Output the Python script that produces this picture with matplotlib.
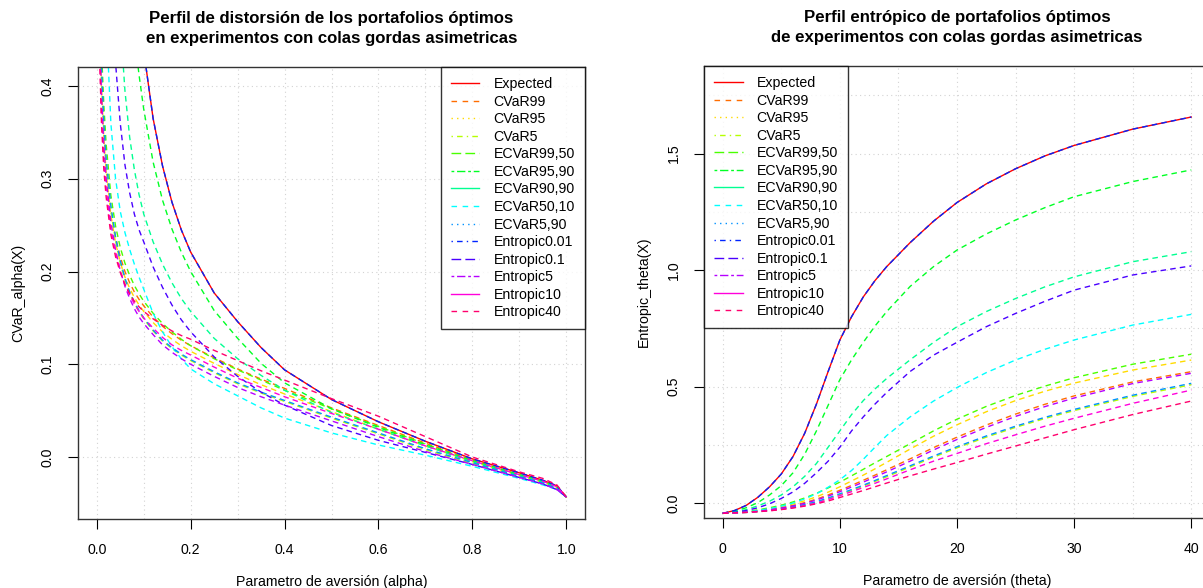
import numpy as np
import matplotlib
matplotlib.use("Agg")
import matplotlib.pyplot as plt
from matplotlib.lines import Line2D
from matplotlib.ticker import MultipleLocator

plt.rcParams['font.family'] = ['Liberation Sans', 'DejaVu Sans']

# series names and colours (R rainbow(14))
names = ["Expected", "CVaR99", "CVaR95", "CVaR5", "ECVaR99,50", "ECVaR95,90",
         "ECVaR90,90", "ECVaR50,10", "ECVaR5,90", "Entropic0.01", "Entropic0.1",
         "Entropic5", "Entropic10", "Entropic40"]
colors = ["#FF0000", "#FF6D00", "#FFDB00", "#B6FF00", "#49FF00", "#00FF24",
          "#00FF92", "#00FFFF", "#0092FF", "#0024FF", "#4900FF", "#B600FF",
          "#FF00DB", "#FF006D"]

# left panel: distortion profile vs alpha
alpha = [0.005, 0.01, 0.015, 0.02, 0.03, 0.04, 0.05, 0.06, 0.07, 0.08, 0.09, 0.10, 0.12, 0.14,
         0.16, 0.18, 0.2, 0.25, 0.3, 0.35, 0.4, 0.5, 0.6, 0.7, 0.8, 0.9, 0.95, 0.98, 1.0]
l_expected = [3.0, 2.5, 2.2, 1.9, 1.45, 1.1, 0.88, 0.73, 0.63, 0.55, 0.488, 0.438, 0.365, 0.314,
              0.275, 0.245, 0.221, 0.177, 0.146, 0.118, 0.094, 0.062, 0.038, 0.017, -0.002, -0.017, -0.025, -0.031, -0.043]
l_cvar99 = [0.5, 0.41, 0.35, 0.312, 0.266, 0.237, 0.216, 0.2, 0.188, 0.178, 0.17, 0.163, 0.151, 0.141,
            0.133, 0.126, 0.12, 0.107, 0.095, 0.084, 0.074, 0.053, 0.034, 0.015, -0.003, -0.019, -0.026, -0.032, -0.043]
l_cvar95 = [0.49, 0.40, 0.345, 0.306, 0.261, 0.231, 0.21, 0.194, 0.182, 0.172, 0.164, 0.157, 0.145, 0.135,
            0.127, 0.12, 0.114, 0.101, 0.089, 0.078, 0.068, 0.049, 0.03, 0.012, -0.005, -0.02, -0.027, -0.033, -0.043]
l_cvar5 = [0.5, 0.41, 0.355, 0.316, 0.266, 0.233, 0.209, 0.191, 0.177, 0.166, 0.157, 0.149, 0.136, 0.125,
           0.117, 0.11, 0.104, 0.091, 0.079, 0.069, 0.06, 0.042, 0.025, 0.008, -0.007, -0.021, -0.028, -0.034, -0.043]
l_ecvar99_50 = [0.55, 0.44, 0.38, 0.337, 0.282, 0.249, 0.226, 0.209, 0.196, 0.185, 0.176, 0.168, 0.155, 0.144,
                0.135, 0.127, 0.12, 0.106, 0.094, 0.083, 0.072, 0.052, 0.033, 0.014, -0.004, -0.019, -0.026, -0.032, -0.043]
l_ecvar95_90 = [2.5, 2.1, 1.8, 1.55, 1.15, 0.87, 0.70, 0.59, 0.51, 0.455, 0.412, 0.375, 0.318, 0.277,
                0.246, 0.221, 0.2, 0.158, 0.128, 0.101, 0.08, 0.052, 0.032, 0.013, -0.004, -0.019, -0.026, -0.032, -0.043]
l_ecvar90_90 = [1.8, 1.4, 1.15, 0.98, 0.74, 0.58, 0.47, 0.395, 0.345, 0.31, 0.283, 0.262, 0.232, 0.208,
                0.188, 0.171, 0.157, 0.128, 0.106, 0.088, 0.072, 0.048, 0.03, 0.012, -0.005, -0.02, -0.027, -0.033, -0.043]
l_ecvar50_10 = [1.0, 0.72, 0.57, 0.475, 0.36, 0.30, 0.265, 0.242, 0.224, 0.208, 0.194, 0.181, 0.155, 0.135,
                0.119, 0.106, 0.095, 0.079, 0.066, 0.053, 0.042, 0.026, 0.013, 0.002, -0.01, -0.023, -0.03, -0.035, -0.043]
l_ecvar5_90 = [0.52, 0.42, 0.36, 0.321, 0.271, 0.237, 0.212, 0.193, 0.178, 0.167, 0.158, 0.15, 0.137, 0.126,
               0.118, 0.111, 0.105, 0.092, 0.08, 0.07, 0.061, 0.043, 0.026, 0.009, -0.006, -0.021, -0.028, -0.034, -0.043]
l_ent001 = [3.0, 2.5, 2.2, 1.9, 1.45, 1.1, 0.88, 0.73, 0.63, 0.55, 0.488, 0.438, 0.365, 0.314,
            0.275, 0.245, 0.221, 0.177, 0.146, 0.118, 0.094, 0.062, 0.038, 0.017, -0.002, -0.017, -0.025, -0.031, -0.043]
l_ent01 = [1.4, 1.05, 0.86, 0.72, 0.54, 0.425, 0.36, 0.315, 0.285, 0.262, 0.245, 0.232, 0.205, 0.183,
           0.164, 0.148, 0.135, 0.108, 0.087, 0.07, 0.056, 0.034, 0.018, 0.005, -0.008, -0.022, -0.029, -0.035, -0.043]
l_ent5 = [0.48, 0.39, 0.335, 0.30, 0.253, 0.223, 0.201, 0.184, 0.171, 0.16, 0.151, 0.144, 0.132, 0.121,
          0.113, 0.106, 0.10, 0.087, 0.075, 0.065, 0.056, 0.039, 0.022, 0.006, -0.008, -0.022, -0.029, -0.035, -0.043]
l_ent10 = [0.46, 0.37, 0.32, 0.29, 0.246, 0.221, 0.201, 0.186, 0.175, 0.165, 0.157, 0.15, 0.139, 0.129,
           0.121, 0.115, 0.11, 0.097, 0.085, 0.075, 0.065, 0.047, 0.03, 0.012, -0.004, -0.019, -0.026, -0.032, -0.043]
l_ent40 = [0.45, 0.36, 0.31, 0.28, 0.24, 0.216, 0.199, 0.186, 0.176, 0.168, 0.162, 0.157, 0.149, 0.142,
           0.136, 0.131, 0.127, 0.115, 0.104, 0.093, 0.083, 0.063, 0.044, 0.022, 0.0, -0.016, -0.023, -0.03, -0.043]

# right panel: entropic profile vs theta
theta = [0, 1, 2, 3, 4, 5, 6, 7, 8, 9, 10, 11, 12, 13, 14, 16, 18, 20, 22.5, 25, 27.5, 30, 35, 40]
r_expected = [-0.044, -0.032, -0.01, 0.025, 0.07, 0.125, 0.2, 0.3, 0.425, 0.565, 0.70, 0.80, 0.885, 0.955,
              1.015, 1.118, 1.21, 1.29, 1.37, 1.435, 1.49, 1.535, 1.605, 1.657]
r_cvar99 = [-0.044, -0.042, -0.039, -0.034, -0.028, -0.02, -0.01, 0.002, 0.017, 0.035, 0.055, 0.076, 0.098, 0.12,
            0.143, 0.19, 0.238, 0.283, 0.335, 0.382, 0.424, 0.46, 0.52, 0.564]
r_cvar95 = [-0.044, -0.042, -0.038, -0.032, -0.025, -0.015, -0.004, 0.01, 0.027, 0.047, 0.07, 0.095, 0.12, 0.147,
            0.175, 0.232, 0.287, 0.336, 0.392, 0.44, 0.48, 0.515, 0.571, 0.614]
r_cvar5 = [-0.044, -0.042, -0.04, -0.037, -0.032, -0.025, -0.017, -0.008, 0.004, 0.019, 0.036, 0.054, 0.073, 0.093,
           0.113, 0.155, 0.197, 0.237, 0.283, 0.325, 0.363, 0.397, 0.458, 0.508]
r_ecvar99_50 = [-0.044, -0.041, -0.036, -0.029, -0.02, -0.009, 0.005, 0.022, 0.042, 0.065, 0.09, 0.117, 0.145, 0.173,
                0.2, 0.255, 0.31, 0.36, 0.415, 0.462, 0.502, 0.538, 0.596, 0.639]
r_ecvar95_90 = [-0.044, -0.035, -0.02, 0.002, 0.035, 0.075, 0.13, 0.21, 0.31, 0.42, 0.53, 0.615, 0.69, 0.76,
                0.822, 0.93, 1.015, 1.086, 1.155, 1.215, 1.268, 1.315, 1.38, 1.43]
r_ecvar90_90 = [-0.044, -0.038, -0.028, -0.012, 0.008, 0.035, 0.07, 0.115, 0.17, 0.24, 0.31, 0.38, 0.44, 0.49,
                0.535, 0.615, 0.69, 0.757, 0.822, 0.878, 0.928, 0.971, 1.036, 1.079]
r_ecvar50_10 = [-0.044, -0.042, -0.038, -0.032, -0.024, -0.013, 0.0, 0.018, 0.04, 0.068, 0.10, 0.14, 0.188, 0.24,
                0.29, 0.37, 0.438, 0.496, 0.56, 0.614, 0.66, 0.70, 0.764, 0.81]
r_ecvar5_90 = [-0.044, -0.042, -0.04, -0.036, -0.031, -0.024, -0.016, -0.006, 0.006, 0.022, 0.04, 0.058, 0.077, 0.097,
               0.118, 0.16, 0.202, 0.242, 0.288, 0.33, 0.368, 0.402, 0.463, 0.514]
r_ent001 = [-0.044, -0.032, -0.01, 0.025, 0.07, 0.125, 0.2, 0.3, 0.425, 0.565, 0.70, 0.80, 0.885, 0.955,
            1.015, 1.118, 1.21, 1.29, 1.37, 1.435, 1.49, 1.535, 1.605, 1.657]
r_ent01 = [-0.044, -0.04, -0.032, -0.02, -0.003, 0.02, 0.048, 0.085, 0.13, 0.18, 0.24, 0.31, 0.37, 0.425,
           0.475, 0.565, 0.635, 0.69, 0.757, 0.814, 0.866, 0.914, 0.979, 1.018]
r_ent5 = [-0.044, -0.042, -0.039, -0.035, -0.029, -0.021, -0.012, -0.001, 0.013, 0.03, 0.049, 0.069, 0.09, 0.112,
          0.134, 0.18, 0.228, 0.273, 0.325, 0.372, 0.414, 0.451, 0.513, 0.557]
r_ent10 = [-0.044, -0.042, -0.04, -0.037, -0.033, -0.027, -0.02, -0.011, 0.0, 0.015, 0.032, 0.049, 0.067, 0.085,
           0.104, 0.143, 0.18, 0.213, 0.255, 0.293, 0.33, 0.364, 0.428, 0.485]
r_ent40 = [-0.044, -0.042, -0.04, -0.037, -0.033, -0.028, -0.021, -0.013, -0.003, 0.009, 0.024, 0.039, 0.054, 0.07,
           0.086, 0.117, 0.146, 0.174, 0.21, 0.245, 0.28, 0.315, 0.38, 0.438]

left_series = [l_expected, l_cvar99, l_cvar95, l_cvar5, l_ecvar99_50, l_ecvar95_90, l_ecvar90_90,
               l_ecvar50_10, l_ecvar5_90, l_ent001, l_ent01, l_ent5, l_ent10, l_ent40]
right_series = [r_expected, r_cvar99, r_cvar95, r_cvar5, r_ecvar99_50, r_ecvar95_90, r_ecvar90_90,
                r_ecvar50_10, r_ecvar5_90, r_ent001, r_ent01, r_ent5, r_ent10, r_ent40]

# R lty 1..6 cycled for the legend
r_lty = ["-", (0, (4, 4)), (0, (1, 3)), (0, (1, 3, 4, 3)), (0, (7, 3)), (0, (2, 2, 6, 2))]
leg_styles = [r_lty[i % 6] for i in range(len(names))]

fig = plt.figure(figsize=(12.03, 5.88), dpi=100)
W, H = 1203, 588
ax1 = fig.add_axes([78 / W, 1 - 519 / H, (585 - 78) / W, (519 - 67) / H])
ax2 = fig.add_axes([704 / W, 1 - 518 / H, 506 / W, (518 - 66) / H])


def draw(ax, x, series):
    for i, y in enumerate(series):
        ls = "-" if i == 0 else (0, (4, 3))
        ax.plot(x, y, color=colors[i], lw=1.0, linestyle=ls)


draw(ax1, alpha, left_series)
draw(ax2, theta, right_series)

ax1.set_xlim(-0.04, 1.04)
ax1.set_ylim(-0.0668, 0.4205)
ax1.set_xticks([0.0, 0.2, 0.4, 0.6, 0.8, 1.0])
ax1.set_yticks([0.0, 0.1, 0.2, 0.3, 0.4])
ax1.xaxis.set_minor_locator(MultipleLocator(0.1))
ax1.yaxis.set_minor_locator(MultipleLocator(0.1))

ax2.set_xlim(-1.6, 41.6)
ax2.set_ylim(-0.064, 1.876)
ax2.set_xticks([0, 10, 20, 30, 40])
ax2.set_yticks([0.0, 0.5, 1.0, 1.5])
ax2.xaxis.set_minor_locator(MultipleLocator(5))
ax2.yaxis.set_minor_locator(MultipleLocator(0.25))

fs = 10.2
for ax in (ax1, ax2):
    ax.grid(True, which="both", color="#d3d3d3", linestyle=(0, (1, 3)), lw=0.8)
    ax.set_axisbelow(True)
    ax.tick_params(which="minor", length=0)
    ax.tick_params(which="major", direction="out", length=7, labelsize=fs, pad=10)
    for s in ax.spines.values():
        s.set_linewidth(1.0)
        s.set_color("#333333")

ax1.set_yticklabels(["0.0", "0.1", "0.2", "0.3", "0.4"], rotation=90, va="center")
ax2.set_yticklabels(["0.0", "0.5", "1.0", "1.5"], rotation=90, va="center")

ax1.set_title("Perfil de distorsión de los portafolios óptimos\nen experimentos con colas gordas asimetricas",
              fontsize=12.05, fontweight="bold", pad=17, linespacing=1.45)
ax2.set_title("Perfil entrópico de portafolios óptimos\nde experimentos con colas gordas asimetricas",
              fontsize=12.05, fontweight="bold", pad=17, linespacing=1.45)
ax1.set_xlabel("Parametro de aversión (alpha)", fontsize=fs, labelpad=13)
ax1.set_ylabel("CVaR_alpha(X)", fontsize=fs, labelpad=11)
ax2.set_xlabel("Parametro de aversión (theta)", fontsize=fs, labelpad=13)
ax2.set_ylabel("Entropic_theta(X)", fontsize=fs, labelpad=11)

handles = [Line2D([], [], color=colors[i], lw=1.0, linestyle=leg_styles[i]) for i in range(len(names))]
for ax, loc in ((ax1, "upper right"), (ax2, "upper left")):
    leg = ax.legend(handles, names, loc=loc, fontsize=fs, frameon=True, fancybox=False,
                    borderaxespad=0, handlelength=2.0, labelspacing=0.25, handletextpad=1.0,
                    borderpad=0.72)
    leg.get_frame().set_edgecolor("black")
    leg.get_frame().set_linewidth(1.0)

fig.savefig("out.png", dpi=100)
